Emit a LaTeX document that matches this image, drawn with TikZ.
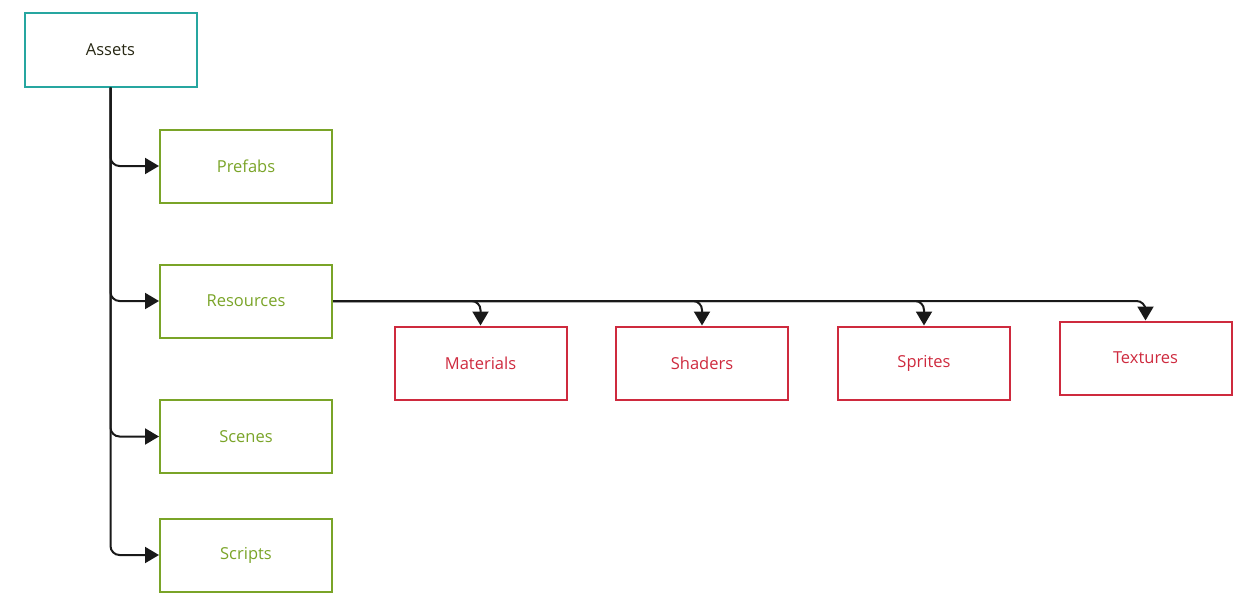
\documentclass[tikz,border=0pt]{standalone}
\usepackage{fontspec}
\setmainfont{Open Sans}
\usetikzlibrary{arrows.meta}
\definecolor{teal1}{RGB}{38,166,160}
\definecolor{green1}{RGB}{122,164,40}
\definecolor{red1}{RGB}{206,42,62}
\definecolor{txt1}{RGB}{40,40,20}
\tikzset{
  box/.style={draw, line width=2pt, minimum width=172pt, minimum height=73pt, inner sep=0pt, font=\fontsize{16.5}{19}\selectfont},
  rootbox/.style={box, draw=teal1, text=txt1},
  greenbox/.style={box, draw=green1, text=green1},
  redbox/.style={box, draw=red1, text=red1},
  conn/.style={draw=black!90, line width=2pt, rounded corners=9pt, -{Triangle[length=14pt,width=16pt]}}
}
\begin{document}
\begin{tikzpicture}[x=1pt,y=-1pt]
\useasboundingbox (0,0) rectangle (1257,602);
\node[rootbox] (assets) at (110.5,50) {Assets};
\node[greenbox] (prefabs) at (246,166) {Prefabs};
\node[greenbox] (resources) at (246,301) {Resources};
\node[greenbox] (scenes) at (246,436.5) {Scenes};
\node[greenbox] (scripts) at (246,555) {Scripts};
\node[redbox] (materials) at (480.5,363) {Materials};
\node[redbox] (shaders) at (702,363) {Shaders};
\node[redbox] (sprites) at (924,363) {Sprites};
\node[redbox] (textures) at (1145.5,358) {Textures};
\draw[conn] (assets.south) |- (prefabs.west);
\draw[conn] (assets.south) |- (resources.west);
\draw[conn] (assets.south) |- (scenes.west);
\draw[conn] (assets.south) |- (scripts.west);
\draw[conn] (resources.east) -| (materials.north);
\draw[conn] (resources.east) -| (shaders.north);
\draw[conn] (resources.east) -| (sprites.north);
\draw[conn] (resources.east) -| (textures.north);
\end{tikzpicture}
\end{document}
